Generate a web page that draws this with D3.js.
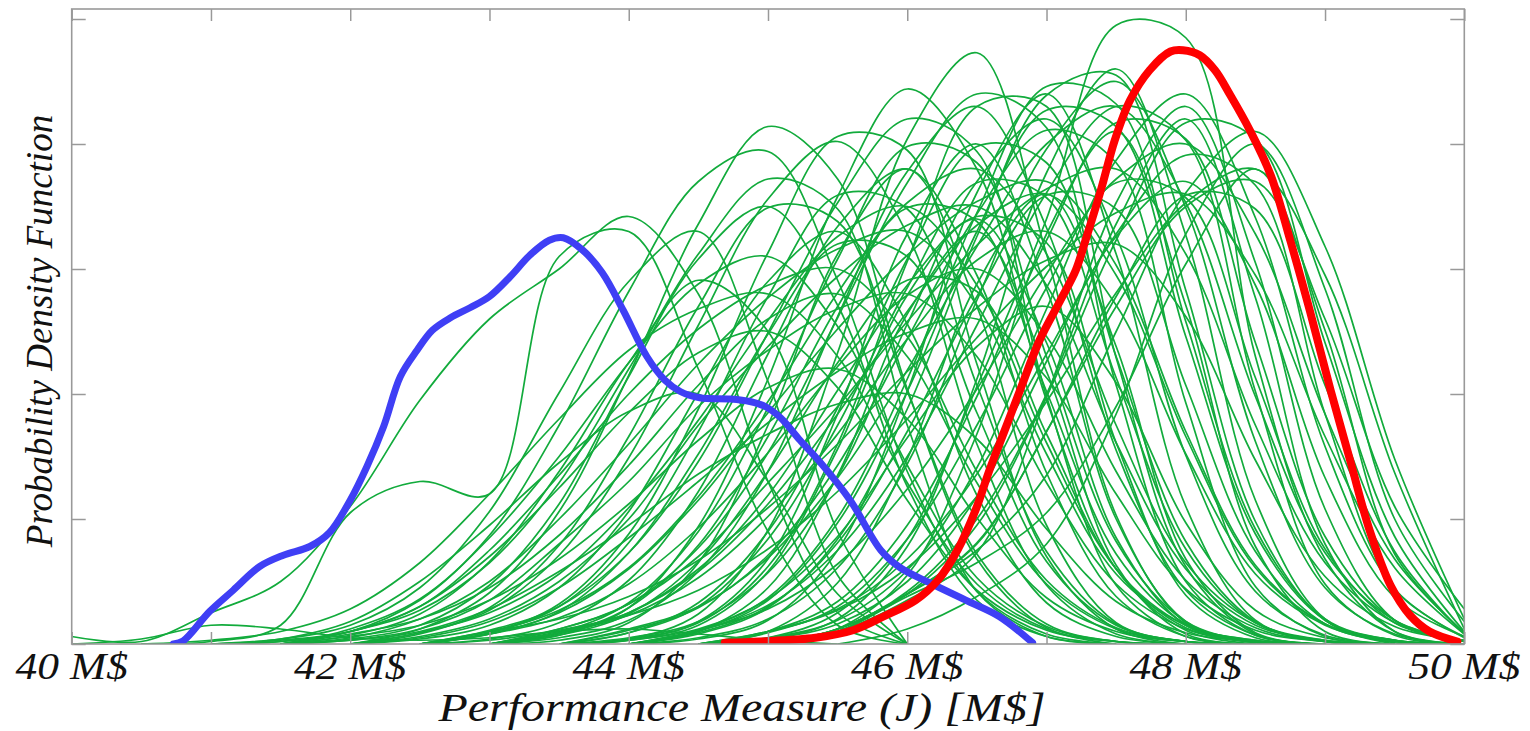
<!DOCTYPE html>
<html><head><meta charset="utf-8">
<script src="https://cdn.jsdelivr.net/npm/d3@7"></script>
<style>body{margin:0;background:#fff}svg{display:block}</style>
</head><body>
<svg id="chart" width="1530" height="731"></svg>
<script>
// ---- data ----
const xGrid = [40,40.5,41,41.5,42,42.5,43,43.5,44,44.5,45,45.5,46,46.5,47,47.5,48,48.5,49,49.5,50];
const xTickValues = [40,41,42,43,44,45,46,47,48,49,50];
const xLabelValues = [40,42,44,46,48,50];
const yTickValues = [0,10,20,30,40,50];
const xTitle = "Performance Measure (J) [M$]";
const yTitle = "Probability Density Function";

const blueX = [40.73,40.80,40.99,41.16,41.35,41.52,41.71,41.85,42.00,42.12,42.24,42.36,42.48,42.59,42.72,42.86,43.00,43.15,43.29,43.43,43.53,43.67,43.81,43.96,44.13,44.26,44.37,44.51,44.73,44.87,44.98,45.09,45.23,45.37,45.59,45.81,45.95,46.16,46.44,46.66,46.90];
const blueY = [0,0.24,2.6,4.3,6.2,7.1,7.8,8.9,11.5,14.2,17.4,21.4,23.5,25.1,26.1,26.9,27.8,29.4,31.1,32.3,32.5,31.5,29.7,26.7,23.0,21.1,20.2,19.7,19.6,19.4,19.0,18.1,16.3,14.6,11.5,7.5,6.1,4.9,3.4,2.2,0.1];

const redX = [44.69,44.94,45.34,45.61,45.83,46.06,46.22,46.36,46.49,46.59,46.70,46.81,46.95,47.10,47.21,47.28,47.39,47.49,47.60,47.74,47.89,47.98,48.10,48.21,48.32,48.46,48.61,48.75,48.89,49.04,49.18,49.32,49.47,49.61,49.75,49.95];
const redY = [0.1,0.2,0.5,1.1,2.2,3.5,5.1,7.5,10.7,13.9,17.1,20.3,24.3,27.5,29.9,32.3,36.3,40.3,43.5,45.9,47.4,47.5,47.1,45.9,43.9,41.1,37.5,32.3,26.7,20.3,14.7,9.1,4.7,2.3,1.0,0.2];

const greenSeries = [
 [0.6,0.2,2.5,5,11,19.5,26,30,34.2,28,13,2.5,0,0,0,0,0,0,0,0,0],
 [0,0,0.2,1.5,10.5,13,12,31,33,22,9,1.5,0,0,0,0,0,0,0,0,0],
 [0,0.4,1.5,1.2,0.5,0.3,0.5,1,1.2,0.8,0.3,0,0,0,0,0,0,0,0,0,0],
 [0,0,0,0,0,0,0,0,0,0,0.5,2.5,8.4,20.6,34,49.5,48.5,23,6.8,1,0],
 [0,0,0,0,0,0,0,0,0.4,2.4,9.1,23.3,40.4,47.3,31.2,10.3,1.7,0.1,0,0,0],
 [0,0,0,0,0,0,0,0,0.4,1.7,6.2,16,30.6,43,43,22.9,6.2,0.8,0,0,0],
 [0,0,0,0,0,0,0,0,0,0.8,2.9,8.4,18.8,32.6,43.9,45.5,28.3,9.8,1.9,0.1,0],
 [0,0,0,0,0,0,0,0.7,2.9,9.4,21.2,35.8,44.4,38,19.5,6,1.1,0,0,0,0],
 [0,0,0,0,0,0,0.9,3.2,8.8,18.8,31.3,40.6,39.5,22.4,7,1.2,0,0,0,0,0],
 [0,0,0,0,0,1.2,4.1,10.6,21.5,33.6,41.4,37.2,20.4,6.8,1.3,0,0,0,0,0,0],
 [0,0,0,0,1.2,3.6,8.7,17.5,28.2,37,39.4,29.1,13.8,4.2,0.8,0,0,0,0,0,0],
 [0,0,0,0,0,0.9,2.7,7.1,14.9,25.5,35.6,40.2,32.8,16,4.7,0.8,0,0,0,0,0],
 [0,0,0,0.4,1.5,4.5,10.6,20.1,29,33,21,5.5,0,0,0,0,0,0,0,0,0],
 [0,0,0,0,0.7,2.4,6.6,13.8,22.5,29.1,25,9,0,0,0,0,0,0,0,0,0],
 [0,0,0,0,0,0.8,2.9,7.9,16.6,27,34.9,33.8,20.2,7.2,1.6,0.2,0,0,0,0,0],
 [0,0,0,0,0,0.4,1.5,4.5,10.6,20.1,29,33,25.6,11.9,3.3,0.6,0,0,0,0,0],
 [0,0,0,0,0,0,0.9,3,8.1,17,27.8,35.9,34.8,20.7,7.4,1.6,0.2,0,0,0,0],
 [0,0,0,0,0,0,0.4,1.7,5.1,12.2,23.2,33.4,38,29.5,13.7,3.8,0.6,0,0,0,0],
 [0,0,0,0.2,1,3.5,8.5,15,22.5,28.8,31,25.4,14.3,5.3,1.4,0.2,0,0,0,0,0],
 [0,0,0,0,0.8,2,4.5,8.7,14.3,20.7,26,28,23,12.9,4.8,1.2,0.2,0,0,0,0],
 [0,0,0,0,0,0,0,0.9,3.3,9,18.9,30.8,39.8,38.5,23,8.2,1.8,0.2,0,0,0],
 [0,0,0,0,0,0,0,0.5,1.9,5.8,13.8,26.2,37.8,43,33.3,15.5,4.3,0.7,0,0,0],
 [0,0,0,0,0,0,1,2.7,6.1,11.8,19.4,28.1,35.3,38,31.2,17.5,6.5,1.7,0.3,0,0],
 [0,0,0,0,0,0,0,0,0.9,3.3,9,18.9,30.8,39.8,38.5,23,8.2,1.8,0.2,0,0],
 [0,0,0,0,0,0,0,0,0.5,1.8,5.7,13.4,25.6,37,42,32.6,15.1,4.2,0.7,0,0],
 [0,0,0,0,0,0.9,2.5,5.6,10.9,17.9,25.9,32.6,35,28.7,16.1,6,1.5,0.3,0,0,0],
 [0,0,0,0,0,0,0,0,0,1,4.5,13.5,26.4,33,21.8,6.3,0.8,0,0,0,0],
 [0,0,0,0,0,0,0,1,2.5,5.8,11.2,18.4,26.6,33.5,36,29.5,16.6,6.1,1.6,0.3,0],
 [0,0,0,0,0,0.6,2,5,10,17.5,23.8,29.4,33.5,35,28.7,16.1,6,1.5,0.3,0,0],
 [0,0,0,0,0,0,0,0,0,1,3.5,9.7,20.2,33,42.7,41.4,24.6,8.8,1.9,0.3,0],
 [0,0,0,0,0,0,0,0,0,0.5,2,6.1,14.4,27.5,39.6,45,34.9,16.2,4.5,0.8,0],
 [0,0,0,0,0,0,0,0,1.2,3,6.9,13.3,21.9,31.8,40,43,35.3,19.8,7.3,1.9,0.2],
 [0,0,0,0,0,0,0,0,0,0,1,3.4,9.5,19.8,32.3,41.7,40.4,24.1,8.6,1.9,0.3],
 [0,0,0,0,0,0,0,0,0,0,0.5,1.9,5.9,14.1,26.8,38.7,44,34.1,15.8,4.4,0.5],
 [0,0,0,0,0,0,0,0,0,1.1,2.8,6.4,12.4,20.4,29.6,37.2,40,32.8,18.4,6.8,0.9],
 [0,0,0,0,0,0,0,0,0,0,0,1.2,5.5,16.8,32.8,41,27.1,7.8,1,0,0],
 [0,0,0,0,0,0,0.8,2.5,6,11.5,18.5,25.2,31.1,35.4,37,30.3,17,6.3,1.6,0.3,0],
 [0,0,0,0,0,0,0,0,0,0.9,3,8.1,17,27.8,35.9,34.8,20.7,7.4,1.6,0.2,0],
 [0,0,0,0,0,0,0,0,0,0,1,4.9,14.8,28.8,36,23.8,6.8,0.9,0,0,0],
 [0,0,0,0,0,0,0.3,1.2,3.2,7,12.9,19,25.8,31.9,36.4,38,31.2,17.5,6.5,1.7,0.3],
 [0,0,0,0,0,0,0,1.1,2.3,4.3,7.6,12.2,18,24.5,30.2,34.5,36,29.5,16.6,6.1,0.8],
 [0,0,0,0,0,0,0,0,0,0,0,1.2,4,9.5,19.8,32.3,41.7,40.4,24.1,8.6,1],
 [0,0,0,0,0,0,0,0,0,0,0,1,4,7.5,13.5,25,36.1,41,31.8,14.8,2],
 [0,0,0,0,0,0,0,0,0,0,1,2.7,6.1,11.8,19.4,28.1,35.3,38,29.5,13.7,1.2],
 [0,0,0,0,0,0,0,0,0,0,0,1.2,4.2,10,20,33.6,42,27.7,8,1,0],
 [0,0,0,0,0,0,0,0,0,0,0,1,3.8,6.5,10.5,19,30.4,38,25.1,7.2,0.9],
 [0,0,0,0,0,0,0,0,0,0,0,1.2,4,8.1,17,27.8,35.9,34.8,20.7,7.4,0.8],
 [0,0,0,0,0,0,0,0,0,0,0,1.2,4,8,17,27,35,37,26,11,2.8],
 [0,0,0,0.2,1,3,7,12.5,18.5,23.3,25,20.5,11.5,4.3,1.1,0.2,0,0,0,0,0],
 [0,0,0,0,0.6,1.5,3.5,6.8,11.2,16.3,20.5,22,18,10.1,3.7,1,0.2,0,0,0,0],
 [0,0,0,0,0.3,1.2,3.5,8,13,19,23.5,26.8,28,23,12.9,4.8,1.2,0.2,0,0,0],
 [0,0,0,0,0,0,0.8,2.1,4.8,9.3,15.3,22.2,27.9,30,24.6,13.8,5.1,1.3,0.2,0,0],
 [0,0,0,0,0,0,0,0,0.3,1.2,3.6,8.6,16.5,23.8,27,20.9,9.7,2.7,0.5,0,0],
 [0,0,0,0,0,0,1,2,3.8,6.7,10.9,16,21.8,26.9,30.7,32,26.2,14.7,5.4,1.4,0.3],
 [0,0,0,0.4,1.8,5,9.5,14.5,18.6,20,13,4,0,0,0,0,0,0,0,0,0],
 [0,0,0,0,0.3,1,2.8,5.8,9.5,13.6,16.8,19.2,20,16.4,9.2,3.4,0.9,0.2,0,0,0],
 [0,0,0,0.3,1,3,7.5,13.5,20,25.2,28.7,30,24.6,13.8,5.1,1.3,0.2,0,0,0,0],
 [0,0,0,0,0.5,2,5,10,16,22.4,27.7,31.6,33,27.1,15.2,5.6,1.5,0.3,0,0,0],
 [0,0,0,0,0,0.5,1.8,4.5,8.5,13,17.7,21.8,24.9,26,21.3,12,4.4,1.1,0.2,0,0],
 [0,0,0.3,1,2.8,6.5,12,18,23.5,26.8,28,23,12.9,4.8,1.2,0.2,0,0,0,0,0],
 [0,0,0,0,0,0,0,0.8,2.9,7.9,16.6,27,34.9,33.8,20.2,7.2,1.6,0.2,0,0,0],
 [0,0,0,0,0,0,0,0,0,0,0.9,3,8.4,17.5,28.5,36.9,35.7,21.3,7.6,1.7,0.2],
 [0,0,0,0,0,0,0,0,0.9,3,8.4,17.5,28.5,36.9,35.7,21.3,7.6,1.7,0.2,0,0],
 [0,0,0,0,0,0,0,0,0,1.1,3.7,10.1,21.2,34.5,44.6,43.2,25.8,9.2,2,0.3,0],
 [0,0,0,0,0,0,0,0,0,0.4,1.9,7.5,20.2,36.1,44,31.2,11,1.9,0.2,0,0],
 [0,0,0,0,0,0,0,0,0,0,0.4,2,7.8,21.2,37.7,46,32.7,11.5,2,0.2,0],
 [0,0,0,0,0,0,0,0,0,0,0,1,3.5,7.3,19.8,35.3,43,30.5,10.8,1.9,0.2],
 [0,0,0,0,0,0,1.1,3,7.3,14.6,24.9,35.3,42,39.4,19.8,4.7,0.6,0,0,0,0],
 [0,0,0,0,0,0,0,1.2,3.2,7.7,15.3,26.1,36.9,44,41.3,20.7,5,0.7,0,0,0],
 [0,0,0,0,0,0,0,0,1.1,2.9,7.1,14.3,24.4,34.4,41.1,38.5,19.3,4.6,0.6,0,0],
 [0,0,0,0,0,0,0,0,0,1.1,3.1,7.5,15,25.5,36.1,43,40.3,20.2,4.8,0.7,0],
 [0,0,0,0,0,0,0,0,0,0,1,2.8,6.8,13.6,23.2,32.8,39.1,36.7,18.4,4.4,0.6],
 [0,0,0,0,0,0,0,0,0.3,1.8,6.8,18.4,32.8,40,28.4,10,1.8,0.2,0,0,0],
 [0,0,0,0,0,0,0,0.3,1.7,6.5,17.5,31.2,38,27,9.5,1.7,0.2,0,0,0,0],
 [0,0,0,0,0,0,0.8,2.6,7.3,15.2,24.8,32,31,18.5,6.6,1.5,0.2,0,0,0,0],
 [0,0,0,0,0,0,0,0,0,0,0.4,1.6,5,11.8,22.6,32.6,37,28.7,13.3,3.7,0.6],
 [0,0,0,0,0,0,0,0,0,0,0,0,1.2,3.8,8,18.4,32.8,40,28.4,10,1.8],
 [0,0,0,0,1,2.7,6.5,12.9,22,31.2,37.2,34.8,17.5,4.2,0.6,0,0,0,0,0,0],
 [0,0,0,0,0.4,1.5,4.7,11.2,21.4,30.8,35,27.1,12.6,3.5,0.6,0,0,0,0,0,0],
 [0,0,0,0,0,0,0,0.7,2.4,6.6,13.8,22.5,29.1,28.2,16.8,6,1.3,0.2,0,0,0],
 [0,0,0,0,0,0,0,0.9,2.3,5.3,10.2,16.8,24.4,30.7,33,27.1,15.2,5.6,1.5,0,0],
 [0,0,0,0,0,0,0,0,0.3,1.5,5.8,15.6,27.9,34,24.1,8.5,1.5,0.1,0,0,0],
 [0,0,0,0,0,0,0,0.9,2.5,6,11.9,20.3,28.7,34.2,32.1,16.1,3.9,0.5,0,0,0]
];

// ---- layout ----
const plot = {left:71.7, right:1464.3, top:9, bottom:644};
const svg = d3.select("#chart");
const x = d3.scaleLinear().domain([40,50]).range([plot.left, plot.right]);
const y = d3.scaleLinear().domain([0,50.8]).range([plot.bottom, plot.top]);

svg.append("defs").append("clipPath").attr("id","clip")
  .append("rect").attr("x",plot.left).attr("y",plot.top)
  .attr("width",plot.right-plot.left).attr("height",plot.bottom-plot.top);

const g = svg.append("g").attr("clip-path","url(#clip)");

const gridLine = d3.line()
  .x(d => x(d[0])).y(d => y(d[1]))
  .curve(d3.curveCatmullRom.alpha(0.5));

function trimmed(vals){
  let a = 0, b = vals.length-1;
  while (a < vals.length-1 && vals[a+1] === 0) a++;
  while (b > 0 && vals[b-1] === 0) b--;
  if (vals[0] !== 0) a = 0;
  if (vals[vals.length-1] !== 0) b = vals.length-1;
  const pts = [];
  for (let i=a;i<=b;i++) pts.push([xGrid[i], vals[i]]);
  return pts;
}

g.selectAll("path.green").data(greenSeries).join("path")
  .attr("class","green")
  .attr("d", d => gridLine(trimmed(d)))
  .attr("fill","none").attr("stroke","#12ab3c").attr("stroke-width",1.7);

g.append("path").datum(blueX.map((v,i)=>[v,blueY[i]]))
  .attr("d", gridLine).attr("fill","none")
  .attr("stroke","#3f3ff5").attr("stroke-width",7).attr("stroke-linecap","round");

g.append("path").datum(redX.map((v,i)=>[v,redY[i]]))
  .attr("d", gridLine).attr("fill","none")
  .attr("stroke","#ff0000").attr("stroke-width",8).attr("stroke-linecap","round");

// ---- axes ----
const axisColor = "#999";
const axB = svg.append("g").attr("transform",`translate(0,${plot.bottom})`)
  .call(d3.axisBottom(x).tickValues(xTickValues).tickSize(-12).tickFormat(""));
const axT = svg.append("g").attr("transform",`translate(0,${plot.top})`)
  .call(d3.axisTop(x).tickValues(xTickValues).tickSize(-12).tickFormat(""));
const axL = svg.append("g").attr("transform",`translate(${plot.left},0)`)
  .call(d3.axisLeft(y).tickValues(yTickValues).tickSize(-14).tickFormat(""));
const axR = svg.append("g").attr("transform",`translate(${plot.right},0)`)
  .call(d3.axisRight(y).tickValues(yTickValues).tickSize(-14).tickFormat(""));
[axB,axT,axL,axR].forEach(a=>{
  a.select(".domain").remove();
  a.selectAll(".tick line").attr("stroke",axisColor).attr("stroke-width",1.5);
});
svg.append("rect").attr("x",plot.left).attr("y",plot.top)
  .attr("width",plot.right-plot.left).attr("height",plot.bottom-plot.top)
  .attr("fill","none").attr("stroke",axisColor).attr("stroke-width",1.6);

const font = "'Liberation Serif','Times New Roman',serif";
svg.append("g").selectAll("text").data(xLabelValues).join("text")
  .attr("transform", d => `translate(${x(d)},679) scale(1,0.88)`)
  .attr("text-anchor","middle").attr("font-family",font).attr("font-style","italic")
  .attr("font-size",43.5).attr("fill","#111").text(d => d + " M$");

svg.append("text").attr("transform","translate(742,721) scale(1,0.82)")
  .attr("text-anchor","middle").attr("font-family",font).attr("font-style","italic")
  .attr("font-size",48).attr("fill","#111").text(xTitle);

svg.append("text").attr("transform","translate(52,331) rotate(-90)")
  .attr("text-anchor","middle").attr("font-family",font).attr("font-style","italic")
  .attr("font-size",37).attr("fill","#111").text(yTitle);
</script>
</body></html>
